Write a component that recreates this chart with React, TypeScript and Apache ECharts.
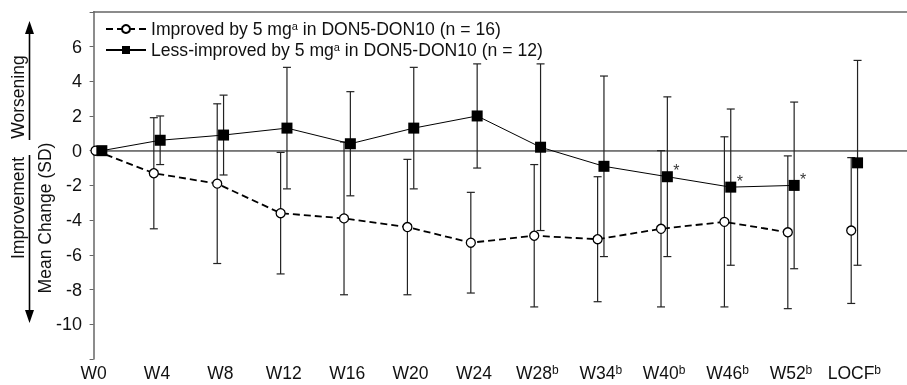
import React, { useEffect, useRef } from "react";
import * as echarts from "echarts";

const categories = ["W0", "W4", "W8", "W12", "W16", "W20", "W24", "W28", "W34", "W40", "W46", "W52", "LOCF"];
const categorySup = ["", "", "", "", "", "", "", "b", "b", "b", "b", "b", "b"];
// position of each visit along the x axis (W0 drawn slightly right of its tick in the original)
const catPos = [0.08, 1, 2, 3, 4, 5, 6, 7, 8, 9, 10, 11, 12];

const improvedMean = [0, -1.3, -1.9, -3.6, -3.9, -4.4, -5.3, -4.9, -5.1, -4.5, -4.1, -4.7, -4.6];
const improvedSD = [0, 3.2, 4.6, 3.5, 4.4, 3.9, 2.9, 4.1, 3.6, 4.5, 4.9, 4.4, 4.2];
const lessMean = [0, 0.6, 0.9, 1.3, 0.4, 1.3, 2.0, 0.2, -0.9, -1.5, -2.1, -2.0, -0.7];
const lessSD = [0, 1.4, 2.3, 3.5, 3.0, 3.5, 3.0, 4.8, 5.2, 4.6, 4.5, 4.8, 5.9];
const lessSignificant = [false, false, false, false, false, false, false, false, false, true, true, true, false];

const legendMain = ["Improved by 5 mg", "Less-improved by 5 mg"];
const legendSup = ["a", "a"];
const legendTail = [" in DON5-DON10 (n = 16)", " in DON5-DON10 (n = 12)"];
const seriesNames = ["Improved", "Less-improved"];

const yTicks = [-10, -8, -6, -4, -2, 0, 2, 4, 6];

const FONT = "'Liberation Sans', Arial, sans-serif";
const OFF = 0.05;
const LOCF_INDEX = 12;

export default function App() {
  const ref = useRef<HTMLDivElement>(null);
  useEffect(() => {
    if (!ref.current) return;
    const chart = echarts.init(ref.current, undefined, { renderer: "svg" });

    const lineIdx = categories.map((_, i) => i).filter((i) => i !== LOCF_INDEX);
    const impLine = lineIdx.map((i) => [catPos[i] - OFF, improvedMean[i]]);
    const lessLine = lineIdx.map((i) => [catPos[i] + OFF, lessMean[i]]);
    const impLocf = [[catPos[LOCF_INDEX] - OFF, improvedMean[LOCF_INDEX]]];
    const lessLocf = [[catPos[LOCF_INDEX] + OFF, lessMean[LOCF_INDEX]]];

    const bars: number[][] = [];
    categories.forEach((_, i) => {
      if (improvedSD[i] > 0)
        bars.push([catPos[i] - OFF, improvedMean[i] - improvedSD[i], improvedMean[i] + improvedSD[i]]);
      if (lessSD[i] > 0)
        bars.push([catPos[i] + OFF, lessMean[i] - lessSD[i], lessMean[i] + lessSD[i]]);
    });
    const stars = categories
      .map((_, i) => i)
      .filter((i) => lessSignificant[i])
      .map((i) => [catPos[i] + OFF, lessMean[i]]);

    const xMax = 12.83;
    const openCircle = {
      symbol: "circle",
      symbolSize: 9,
      itemStyle: { color: "#fff", borderColor: "#000", borderWidth: 1.3, opacity: 1 },
    };
    const square = { symbol: "rect", symbolSize: 11, itemStyle: { color: "#000", opacity: 1 } };

    chart.setOption({
      animation: false,
      textStyle: { fontFamily: FONT },
      grid: { left: 93.6, right: 0, top: 11.8, bottom: 26 },
      legend: {
        data: seriesNames,
        orient: "vertical",
        left: 100,
        top: 15,
        itemWidth: 40,
        itemHeight: 10,
        itemGap: 3,
        formatter: (name: string) => {
          const k = seriesNames.indexOf(name);
          return `{n|${legendMain[k]}}{s|${legendSup[k]}}{n|${legendTail[k]}}`;
        },
        textStyle: {
          fontFamily: FONT,
          color: "#000",
          rich: {
            n: { fontSize: 17.6, fontFamily: FONT, color: "#111", lineHeight: 18 },
            s: { fontSize: 11, fontFamily: FONT, color: "#111", verticalAlign: "top", lineHeight: 4 },
          },
        },
      },
      xAxis: [
        {
          type: "value",
          min: 0,
          max: xMax,
          interval: 1,
          axisLine: { show: true, lineStyle: { color: "#666", width: 1.5 } },
          axisTick: { show: false },
          splitLine: { show: false },
          axisLabel: {
            showMaxLabel: false,
            margin: 5,
            formatter: (v: number) => {
              const i = Math.round(v);
              if (Math.abs(v - i) > 1e-6 || i < 0 || i >= categories.length) return "";
              return categorySup[i] ? `{n|${categories[i]}}{s|${categorySup[i]}}` : `{n|${categories[i]}}`;
            },
            rich: {
              n: { fontSize: 17.5, fontFamily: FONT, color: "#111", lineHeight: 17 },
              s: { fontSize: 12, fontFamily: FONT, color: "#111", verticalAlign: "top", lineHeight: 7 },
            },
          },
        },
        {
          type: "value",
          position: "top",
          min: 0,
          max: xMax,
          axisLine: { show: true, lineStyle: { color: "#666", width: 1.5 } },
          axisTick: { show: false },
          axisLabel: { show: false },
          splitLine: { show: false },
        },
      ],
      yAxis: {
        type: "value",
        min: -12,
        max: 8,
        interval: 2,
        offset: 3.6,
        axisLine: { show: true, lineStyle: { color: "#666", width: 1.5 } },
        axisTick: { show: true, length: 4, lineStyle: { color: "#666" } },
        splitLine: { show: false },
        axisLabel: {
          fontSize: 18,
          fontFamily: FONT,
          color: "#111",
          margin: 8,
          formatter: (v: number) => (yTicks.indexOf(v) >= 0 ? String(v) : ""),
        },
      },
      graphic: [
        {
          type: "text",
          x: 18,
          y: 97,
          rotation: Math.PI / 2,
          style: { text: "Worsening", font: `17.5px ${FONT}`, fill: "#111", align: "center", verticalAlign: "middle" },
        },
        {
          type: "line",
          shape: { x1: 29.5, y1: 32, x2: 29.5, y2: 140 },
          style: { stroke: "#000", lineWidth: 1.6 },
        },
        {
          type: "polygon",
          shape: { points: [[29.5, 21], [25, 34], [34, 34]] },
          style: { fill: "#000" },
        },
        {
          type: "text",
          x: 18,
          y: 208,
          rotation: Math.PI / 2,
          style: { text: "Improvement", font: `17.5px ${FONT}`, fill: "#111", align: "center", verticalAlign: "middle" },
        },
        {
          type: "line",
          shape: { x1: 29.5, y1: 155, x2: 29.5, y2: 312 },
          style: { stroke: "#000", lineWidth: 1.6 },
        },
        {
          type: "polygon",
          shape: { points: [[29.5, 323], [25, 310], [34, 310]] },
          style: { fill: "#000" },
        },
        {
          type: "text",
          x: 45,
          y: 218,
          rotation: Math.PI / 2,
          style: { text: "Mean Change (SD)", font: `17.5px ${FONT}`, fill: "#111", align: "center", verticalAlign: "middle" },
        },
      ],
      series: [
        {
          type: "custom",
          name: "errorbars",
          z: 1,
          silent: true,
          data: bars,
          encode: { x: 0, y: [1, 2] },
          renderItem: (params: any, api: any) => {
            const x = api.value(0);
            const lo = api.coord([x, api.value(1)]);
            const hi = api.coord([x, api.value(2)]);
            const w = 4;
            const st = { stroke: "#222", lineWidth: 1.2 };
            return {
              type: "group",
              children: [
                { type: "line", shape: { x1: hi[0], y1: hi[1], x2: lo[0], y2: lo[1] }, style: st },
                { type: "line", shape: { x1: hi[0] - w, y1: hi[1], x2: hi[0] + w, y2: hi[1] }, style: st },
                { type: "line", shape: { x1: lo[0] - w, y1: lo[1], x2: lo[0] + w, y2: lo[1] }, style: st },
              ],
            };
          },
        },
        {
          type: "line",
          name: seriesNames[0],
          z: 3,
          data: impLine,
          ...openCircle,
          lineStyle: { color: "#000", width: 1.8, type: [7, 4] },
          markLine: {
            silent: true,
            symbol: ["none", "none"],
            label: { show: false },
            lineStyle: { color: "#aaa", width: 1, type: "solid" },
            data: [{ yAxis: 0 }],
            z: 0,
          },
        },
        {
          type: "line",
          name: seriesNames[1],
          z: 4,
          data: lessLine,
          ...square,
          lineStyle: { color: "#000", width: 1 },
        },
        { type: "scatter", name: "impLocf", z: 3, data: impLocf, ...openCircle },
        { type: "scatter", name: "lessLocf", z: 4, data: lessLocf, ...square },
        {
          type: "scatter",
          name: "stars",
          z: 5,
          data: stars,
          symbolSize: 0,
          label: {
            show: true,
            formatter: "*",
            position: "inside",
            offset: [9, -6],
            fontSize: 16,
            fontFamily: FONT,
            color: "#000",
          },
        },
      ],
    });
    return () => chart.dispose();
  }, []);
  return <div ref={ref} style={{ position: "fixed", left: 0, top: 0, width: 907, height: 385 }} />;
}
